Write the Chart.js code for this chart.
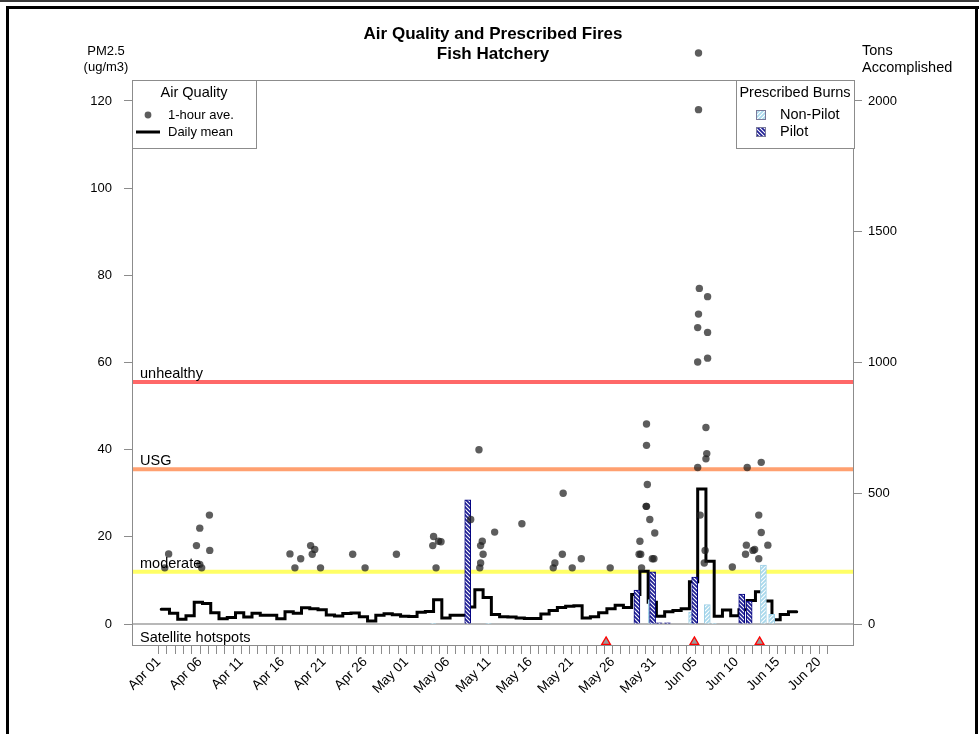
<!DOCTYPE html>
<html>
<head>
<meta charset="utf-8">
<script src="https://cdn.jsdelivr.net/npm/chart.js@4.4.1/dist/chart.umd.min.js"></script>
<style>
  html, body { margin: 0; padding: 0; background: #fff; }
  #wrap { width: 979px; height: 734px; }
</style>
</head>
<body>
<div id="wrap"><canvas id="aqChart" width="979" height="734"></canvas></div>
<script>
// x values are days counted from Apr 01 (day 0)
const xTickLabels = ['Apr 01', 'Apr 06', 'Apr 11', 'Apr 16', 'Apr 21', 'Apr 26', 'May 01', 'May 06',
  'May 11', 'May 16', 'May 21', 'May 26', 'May 31', 'Jun 05', 'Jun 10', 'Jun 15', 'Jun 20'];
const lastTickDay = 81;
const pmTicks = [0, 20, 40, 60, 80, 100, 120];
const tonsTicks = [0, 500, 1000, 1500, 2000];

// daily mean PM2.5, one value per day from Apr 01
const dailyMean = [3.4, 2.5, 1.1, 1.9, 5.0, 4.7, 2.6, 1.2, 1.5, 2.6, 1.6, 2.5, 2.0, 2.0, 1.2, 2.8, 2.5, 3.75, 3.5, 3.3,
  2.1, 1.85, 2.45, 2.55, 1.7, 0.7, 2.0, 2.35, 2.15, 1.8, 1.75, 2.7, 2.9, 5.6, 1.4, 2.0, 2.0, 3.9, 7.9, 6.1,
  2.2, 1.7, 1.6, 1.4, 1.3, 1.3, 2.3, 3.1, 3.8, 4.1, 4.2, 1.4, 1.7, 2.6, 3.5, 4.3, 3.8, 6.8, 12.1, 5.0,
  1.8, 2.8, 3.1, 3.5, 9.7, 31.0, 14.4, 1.8, 3.2, 1.9, 3.3, 5.4, 7.4, 5.3, 1.0, 2.2, 2.8, 2.8];
const dailyShift = 0.3; // daily stamps sit at local midnight

// 1-hour averages (only the hours shown in the picture)
const hourlyDay = [0.73, 1.2, 4.57, 4.97, 6.14, 6.18, 4.97, 5.2,
  15.9, 16.5, 17.2, 18.4, 18.9, 18.6, 19.6,
  23.5, 25.0, 28.8,
  33.3, 33.2, 33.9, 34.2, 33.6,
  37.8, 39.2, 39.0, 39.3, 39.0, 38.9, 40.7, 38.8,
  44.0, 49.0, 48.9, 48.0, 47.8, 50.1, 51.2, 54.7,
  59.1, 59.1, 59.2, 59.1, 59.05, 59.5, 60.1, 58.3, 58.4, 58.2, 58.5, 59.8, 60.0,
  65.4, 65.4, 65.5, 66.5, 65.4, 65.3, 66.5, 65.3, 66.5, 66.3, 66.4, 66.3, 65.3, 65.6, 66.2, 66.1,
  69.5, 71.3, 73.0, 72.7, 73.0, 73.8, 71.2, 71.1, 72.0, 72.2, 72.7];
const hourlyPM = [12.9, 16.1, 18.0, 22.0, 25.0, 16.9, 13.7, 12.9,
  16.1, 12.9, 15.0, 18.0, 17.1, 16.0, 12.9,
  16.0, 12.9, 16.0,
  20.1, 18.0, 19.0, 18.9, 12.9,
  24.0, 19.0, 18.0, 16.0, 14.0, 12.9, 21.1, 40.0,
  23.0, 30.0, 16.0, 14.0, 12.9, 12.9, 15.0, 12.9,
  45.9, 41.0, 32.0, 27.0, 27.0, 24.0, 20.9, 19.0, 16.0, 16.0, 12.9, 15.0, 15.0,
  131.0, 118.0, 77.0, 75.1, 71.1, 68.0, 66.9, 60.1, 61.0, 45.1, 39.1, 37.9, 35.9, 25.0, 16.9, 14.0,
  13.1, 35.9, 37.1, 25.0, 21.0, 18.1, 18.1, 16.0, 16.9, 17.1, 15.0];

// prescribed burns, tons accomplished
const pilotDay = [37.8, 58.3, 60.2, 61.0, 62.0, 65.3, 71.0, 71.9];
const pilotTons = [475, 130, 200, 5, 5, 180, 115, 88];
const nonPilotDay = [32.9, 39.6, 59.3, 64.2, 66.1, 66.9, 72.9, 73.9];
const nonPilotTons = [3, 3, 94, 46, 75, 3, 226, 37];

// satellite hotspot detections
const hotspotDay = [54.2, 64.9, 72.8];

// AQI breakpoints
const levelNames = ['moderate', 'USG', 'unhealthy'];
const levelValues = [12, 35.5, 55.5];
const levelColors = ['#ffff66', '#ffa070', '#ff6868'];

const X_MIN = -3.24, X_MAX = 84.24;
const HOTSPOT_Y = -4.1;
const FONT = "'Liberation Sans', Arial, Helvetica, sans-serif";
const BOX_GREY = '#8c8c8c';
const POINT_COLOR = 'rgba(30,30,30,0.72)';

function hatch(bg, fg, dir) {
  const c = document.createElement('canvas');
  c.width = 4; c.height = 4;
  const g = c.getContext('2d');
  g.fillStyle = bg;
  g.fillRect(0, 0, 4, 4);
  g.strokeStyle = fg;
  g.lineWidth = 1.1;
  g.beginPath();
  if (dir > 0) {
    g.moveTo(-1, 5); g.lineTo(5, -1);
    g.moveTo(-1, 1); g.lineTo(1, -1);
    g.moveTo(3, 5); g.lineTo(5, 3);
  } else {
    g.moveTo(-1, -1); g.lineTo(5, 5);
    g.moveTo(-1, 3); g.lineTo(1, 5);
    g.moveTo(3, -1); g.lineTo(5, 1);
  }
  g.stroke();
  return g.createPattern(c, 'repeat');
}
const pilotFill = hatch('#1f1f95', '#ffffff', -1);
const nonPilotFill = hatch('#a8d8ec', '#ffffff', 1);

Chart.defaults.font.family = FONT;
Chart.defaults.color = '#000';

const datasets = [];
levelValues.forEach((v, i) => {
  datasets.push({
    type: 'line', data: [{ x: X_MIN, y: v }, { x: X_MAX, y: v }],
    borderColor: levelColors[i], borderWidth: 4, pointRadius: 0, order: 5
  });
});
datasets.push({
  type: 'line',
  data: dailyMean.map((v, i) => ({ x: i + dailyShift, y: v })),
  stepped: true, borderColor: '#000', borderWidth: 3, pointRadius: 0,
  borderCapStyle: 'round', borderJoinStyle: 'miter', order: 4
});
datasets.push({
  type: 'bar', yAxisID: 'y2',
  data: nonPilotDay.map((d, i) => ({ x: d, y: nonPilotTons[i] })),
  backgroundColor: nonPilotFill, borderColor: '#9fd0e6', borderWidth: 1,
  barThickness: 6, order: 3
});
datasets.push({
  type: 'bar', yAxisID: 'y2',
  data: pilotDay.map((d, i) => ({ x: d, y: pilotTons[i] })),
  backgroundColor: pilotFill, borderColor: '#000080', borderWidth: 1,
  barThickness: 6, order: 2
});
datasets.push({
  type: 'scatter', unclipped: true,
  data: hourlyDay.map((d, i) => ({ x: d, y: hourlyPM[i] })),
  backgroundColor: POINT_COLOR, borderWidth: 0, pointRadius: 3.7,
  clip: false, order: 1
});
datasets.push({
  type: 'scatter', unclipped: true,
  data: hotspotDay.map(d => ({ x: d, y: HOTSPOT_Y })),
  pointStyle: 'triangle', pointRadius: 5, backgroundColor: '#9a9a9a',
  borderColor: '#ff0000', borderWidth: 1.3, clip: false, order: 0
});

function txt(ctx, s, x, y, align, size, bold) {
  ctx.font = (bold ? 'bold ' : '') + size + 'px ' + FONT;
  ctx.textAlign = align;
  ctx.textBaseline = 'middle';
  ctx.fillStyle = '#000';
  ctx.fillText(s, x, y);
}

const decor = {
  id: 'decor',
  beforeDraw(chart) {
    const ctx = chart.ctx;
    ctx.save();
    ctx.fillStyle = '#fff';
    ctx.fillRect(0, 0, chart.width, chart.height);
    ctx.fillStyle = '#3a3a3a';
    ctx.fillRect(0, 0, chart.width, 2);
    ctx.fillStyle = '#000';
    ctx.fillRect(6, 6, chart.width - 6, 3);
    ctx.fillRect(6, 6, 3, chart.height - 6);
    ctx.fillRect(975, 6, 3, chart.height - 6);
    ctx.restore();
  },
  beforeDatasetsDraw(chart) {
    const { ctx, chartArea: a, scales } = chart;
    const y0 = scales.y.getPixelForValue(0);
    ctx.save();
    ctx.strokeStyle = '#a0a0a0';
    ctx.lineWidth = 1.5;
    ctx.beginPath();
    ctx.moveTo(a.left, y0);
    ctx.lineTo(a.right, y0);
    ctx.stroke();
    ctx.restore();
  },
  // R does not clip points to the plot region, so draw these without the area test
  beforeDatasetDraw(chart, args) {
    if (!chart.data.datasets[args.index].unclipped) return;
    const whole = { left: 0, top: 0, right: chart.width, bottom: chart.height };
    args.meta.data.forEach(el => el.draw(chart.ctx, whole));
    return false;
  },
  afterDatasetsDraw(chart) {
    const { ctx, chartArea: a, scales } = chart;
    ctx.save();
    // plot box
    ctx.strokeStyle = BOX_GREY;
    ctx.lineWidth = 1;
    ctx.strokeRect(a.left + 0.5, a.top + 0.5, a.right - a.left - 1, a.bottom - a.top);

    // level labels
    levelNames.forEach((n, i) => {
      ctx.font = '14.5px ' + FONT;
      ctx.textAlign = 'left';
      ctx.textBaseline = 'alphabetic';
      ctx.fillStyle = '#000';
      ctx.fillText(n, a.left + 8, scales.y.getPixelForValue(levelValues[i]) - 4);
    });
    txt(ctx, 'Satellite hotspots', a.left + 8, 638, 'left', 14.5);

    // titles
    txt(ctx, 'Air Quality and Prescribed Fires', (a.left + a.right) / 2, 34, 'center', 17, true);
    txt(ctx, 'Fish Hatchery', (a.left + a.right) / 2, 54, 'center', 17, true);
    txt(ctx, 'PM2.5', 106, 51, 'center', 13);
    txt(ctx, '(ug/m3)', 106, 67, 'center', 13);
    txt(ctx, 'Tons', 862, 51, 'left', 14.5);
    txt(ctx, 'Accomplished', 862, 68, 'left', 14.5);

    // Air Quality legend
    ctx.fillStyle = '#fff';
    ctx.fillRect(a.left, a.top, 124, 68);
    ctx.strokeStyle = BOX_GREY;
    ctx.strokeRect(a.left + 0.5, a.top + 0.5, 124, 68);
    txt(ctx, 'Air Quality', a.left + 62, 93, 'center', 14.5);
    ctx.fillStyle = POINT_COLOR;
    ctx.beginPath();
    ctx.arc(a.left + 16, 115, 3.4, 0, Math.PI * 2);
    ctx.fill();
    txt(ctx, '1-hour ave.', a.left + 36, 115, 'left', 13);
    ctx.strokeStyle = '#000';
    ctx.lineWidth = 3;
    ctx.beginPath();
    ctx.moveTo(a.left + 4, 132);
    ctx.lineTo(a.left + 28, 132);
    ctx.stroke();
    txt(ctx, 'Daily mean', a.left + 36, 132, 'left', 13);

    // Prescribed Burns legend
    const lx = a.right - 118;
    ctx.fillStyle = '#fff';
    ctx.fillRect(lx, a.top, 118, 68);
    ctx.strokeStyle = BOX_GREY;
    ctx.lineWidth = 1;
    ctx.strokeRect(lx + 0.5, a.top + 0.5, 118, 68);
    txt(ctx, 'Prescribed Burns', lx + 59, 93, 'center', 14.5);
    ctx.fillStyle = nonPilotFill;
    ctx.fillRect(lx + 20, 110, 9, 9);
    ctx.strokeStyle = '#7a7a9a';
    ctx.strokeRect(lx + 20.5, 110.5, 9, 9);
    ctx.fillStyle = pilotFill;
    ctx.fillRect(lx + 20, 127, 9, 9);
    ctx.strokeRect(lx + 20.5, 127.5, 9, 9);
    txt(ctx, 'Non-Pilot', lx + 44, 115, 'left', 14.5);
    txt(ctx, 'Pilot', lx + 44, 132, 'left', 14.5);
    ctx.restore();
  }
};

new Chart(document.getElementById('aqChart'), {
  type: 'line',
  data: { datasets: datasets },
  options: {
    responsive: false,
    animation: false,
    events: [],
    layout: { padding: { top: 80, left: 0, right: 0, bottom: 0 } },
    plugins: { legend: { display: false }, tooltip: { enabled: false }, title: { display: false } },
    scales: {
      x: {
        type: 'linear', min: X_MIN, max: X_MAX, offset: false,
        grid: { offset: false, drawOnChartArea: false, drawTicks: true, tickLength: 9, color: BOX_GREY },
        border: { display: false },
        afterBuildTicks: s => {
          s.ticks = [];
          for (let d = 0; d <= lastTickDay; d++) s.ticks.push({ value: d });
        },
        afterFit: s => { s.height = 89; },
        ticks: {
          autoSkip: false, minRotation: 45, maxRotation: 45, padding: 0,
          font: { size: 13.5 },
          callback: v => (v % 5 === 0 ? xTickLabels[v / 5] : '')
        }
      },
      y: {
        type: 'linear', position: 'left', min: -4.8, max: 124.8,
        grid: { drawOnChartArea: false, tickLength: 8, color: BOX_GREY },
        border: { display: false },
        afterBuildTicks: s => { s.ticks = pmTicks.map(v => ({ value: v })); },
        afterFit: s => { s.width = 132; },
        ticks: { padding: 12, font: { size: 13 }, callback: v => String(v) }
      },
      y2: {
        type: 'linear', position: 'right', min: -80, max: 2080,
        grid: { drawOnChartArea: false, tickLength: 8, color: BOX_GREY },
        border: { display: false },
        afterBuildTicks: s => { s.ticks = tonsTicks.map(v => ({ value: v })); },
        afterFit: s => { s.width = 125; },
        ticks: { padding: 6, font: { size: 13 }, callback: v => String(v) }
      }
    }
  },
  plugins: [decor]
});
</script>
</body>
</html>
